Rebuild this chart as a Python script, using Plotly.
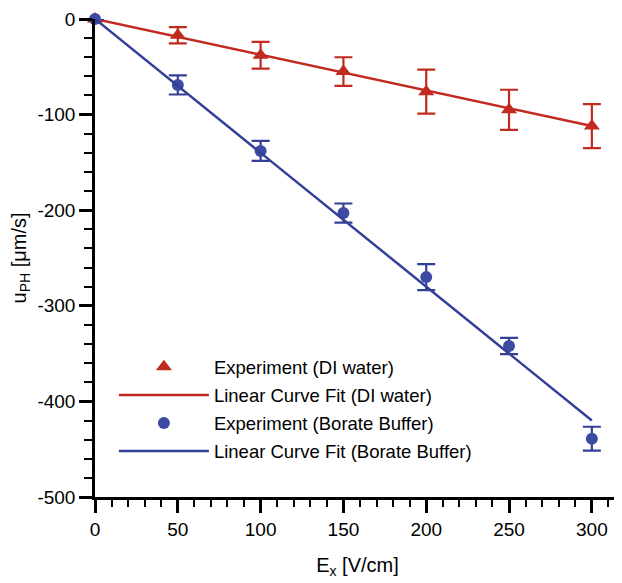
import plotly.graph_objects as go

# Data
ex = [0, 50, 100, 150, 200, 250, 300]
di_u = [0, -17, -38, -55, -76, -95, -112]
di_err = [0, 8.5, 14, 15, 23, 21, 23]
bb_u = [0, -69, -138, -203, -270, -342, -439]
bb_err = [0, 10, 10.5, 10, 13.5, 8.5, 12.5]
fit_x = [0, 300]
di_fit = [0, -112]
bb_fit = [0, -420]
x_ticks = [0, 50, 100, 150, 200, 250, 300]
y_ticks = [0, -100, -200, -300, -400, -500]
y_ticktext = ["0", "-100", "-200", "-300", "-400", "-500"]

RED = "#c22a1f"
BLUE = "#343f97"
BLUE_M = "#3d4ba3"
FONT = "Liberation Sans, Arial, sans-serif"

fig = go.Figure()
fig.add_trace(go.Scatter(
    x=ex, y=di_u, mode="markers", name="Experiment (DI water)", legendgroup="a",
    marker=dict(symbol="triangle-up", size=14, color=RED),
    error_y=dict(type="data", array=di_err, color=RED, thickness=2.2, width=9),
    cliponaxis=False))
fig.add_trace(go.Scatter(
    x=fit_x, y=di_fit, mode="lines", name="Linear Curve Fit (DI water)", legendgroup="b",
    line=dict(color=RED, width=2.5), cliponaxis=False))
fig.add_trace(go.Scatter(
    x=ex, y=bb_u, mode="markers", name="Experiment (Borate Buffer)", legendgroup="c",
    marker=dict(symbol="circle", size=12, color=BLUE_M),
    error_y=dict(type="data", array=bb_err, color=BLUE, thickness=2.2, width=9),
    cliponaxis=False))
fig.add_trace(go.Scatter(
    x=fit_x, y=bb_fit, mode="lines", name="Linear Curve Fit (Borate Buffer)", legendgroup="d",
    line=dict(color=BLUE, width=2.5), cliponaxis=False))

axis_common = dict(
    showline=True, linecolor="black", linewidth=2.5, mirror=False,
    ticks="outside", ticklen=13, tickwidth=2.5, tickcolor="black",
    showgrid=False, zeroline=False, automargin=False,
    ticklabeloverflow="allow",
    tickfont=dict(family=FONT, size=19, color="black"),
)

# the page has an 8px body margin, so the figure is sized to fit the window
fig.update_layout(
    width=614, height=575,
    paper_bgcolor="white", plot_bgcolor="white",
    margin=dict(l=87, r=2, t=11, b=86),
    font=dict(family=FONT, color="black"),
    xaxis=dict(
        range=[0, 317], tickvals=x_ticks, ticklabelstandoff=0,
        minor=dict(dtick=10, tick0=0, ticks="outside", ticklen=7, tickwidth=1.5, tickcolor="black"),
        title=dict(text="E<sub>x</sub> [V/cm]", font=dict(family=FONT, size=20), standoff=20),
        **axis_common),
    yaxis=dict(
        range=[-500, 0], tickvals=y_ticks, ticktext=y_ticktext,
        minor=dict(dtick=20, tick0=0, ticks="outside", ticklen=8, tickwidth=1.5, tickcolor="black"),
        title=dict(text="u<sub>PH</sub> [μm/s]", font=dict(family=FONT, size=20), standoff=13),
        **axis_common),
    legend=dict(
        x=0.036, y=0.311, xanchor="left", yanchor="top",
        bgcolor="rgba(0,0,0,0)", font=dict(family=FONT, size=18.5, color="black"),
        itemwidth=90, tracegroupgap=1),
    showlegend=True,
)

fig.write_html("out.html")
